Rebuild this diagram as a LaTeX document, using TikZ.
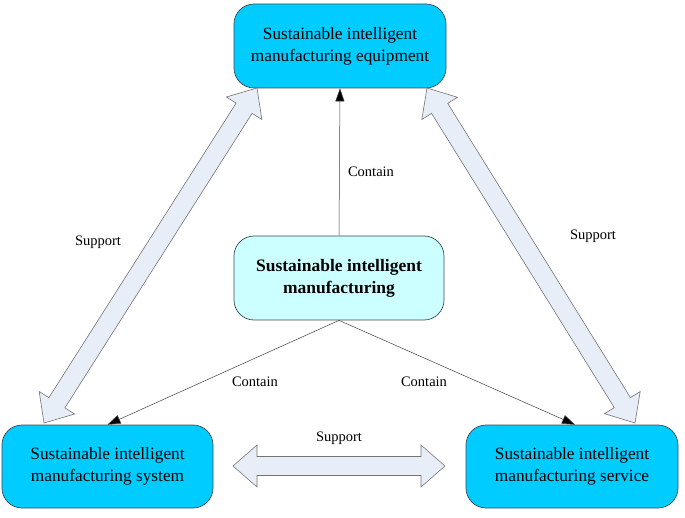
\documentclass[tikz,border=0pt]{standalone}
\usepackage{fontspec}
\setmainfont{Liberation Serif}
\usetikzlibrary{calc,arrows.meta}
\definecolor{boxcyan}{HTML}{00CCFF}
\definecolor{boxlight}{HTML}{CCFFFF}
\definecolor{arrfill}{HTML}{E8EEF8}
\definecolor{boxline}{HTML}{3A4A55}
\newcommand\suparrow[2]{%
  \coordinate (h1) at ($(#1)!24pt!(#2)$);
  \coordinate (h2) at ($(#2)!24pt!(#1)$);
  \draw[bigarrow] (#1) -- ($(h1)!21pt!90:(#2)$) -- ($(h1)!9.5pt!90:(#2)$)
    -- ($(h2)!9.5pt!-90:(#1)$) -- ($(h2)!21pt!-90:(#1)$) -- (#2)
    -- ($(h2)!21pt!90:(#1)$) -- ($(h2)!9.5pt!90:(#1)$)
    -- ($(h1)!9.5pt!-90:(#2)$) -- ($(h1)!21pt!-90:(#2)$) -- cycle;}
\begin{document}
\begin{tikzpicture}[x=1pt,y=-1pt,
  box/.style={draw=boxline, line width=0.7pt, rounded corners=20pt, fill=boxcyan,
    align=center, inner sep=0pt, font=\fontsize{17.3}{22}\selectfont},
  bigarrow/.style={draw=black!55, line width=0.6pt, fill=arrfill, line join=miter},
  contain/.style={draw=black!75, line width=0.5pt, -{Triangle[length=13pt,width=9pt,fill=black]}},
  lbl/.style={font=\fontsize{14.5}{17}\selectfont, inner sep=1pt}]
\useasboundingbox (0,0) rectangle (685,518);
\node[box, minimum width=212pt, minimum height=84pt] (top) at (340,46)
  {Sustainable intelligent\\manufacturing equipment};
\node[box, fill=boxlight, minimum width=210pt, minimum height=84pt,
  font=\fontsize{17.5}{22}\selectfont\bfseries] (mid) at (339,278)
  {Sustainable intelligent\\manufacturing};
\node[box, minimum width=211pt, minimum height=83pt] (bl) at (107.5,466.5)
  {Sustainable intelligent\\manufacturing system};
\node[box, minimum width=212pt, minimum height=83pt] (br) at (572,466.5)
  {Sustainable intelligent\\manufacturing service};
% contain arrows
\draw[contain] (mid.north) -- (top.south);
\draw[contain] (mid.south) -- (bl.north);
\draw[contain] (mid.south) -- ([xshift=3pt]br.north);
\node[lbl] (c1) at (371,172) {Contain};
\node[lbl] (c2) at (255,382) {Contain};
\node[lbl] (c3) at (424,382) {Contain};
% support arrows
\coordinate (la) at (44,423);
\coordinate (lb) at (257,88);
\coordinate (ra) at (427,88);
\coordinate (rb) at (635,423);
\coordinate (ba) at (233,466);
\coordinate (bb) at (445,466);
\suparrow{la}{lb}
\suparrow{ra}{rb}
\suparrow{ba}{bb}
\node[lbl] (s1) at (98,242) {Support};
\node[lbl] (s2) at (593,236) {Support};
\node[lbl] (s3) at (339,438) {Support};
\end{tikzpicture}
\end{document}
